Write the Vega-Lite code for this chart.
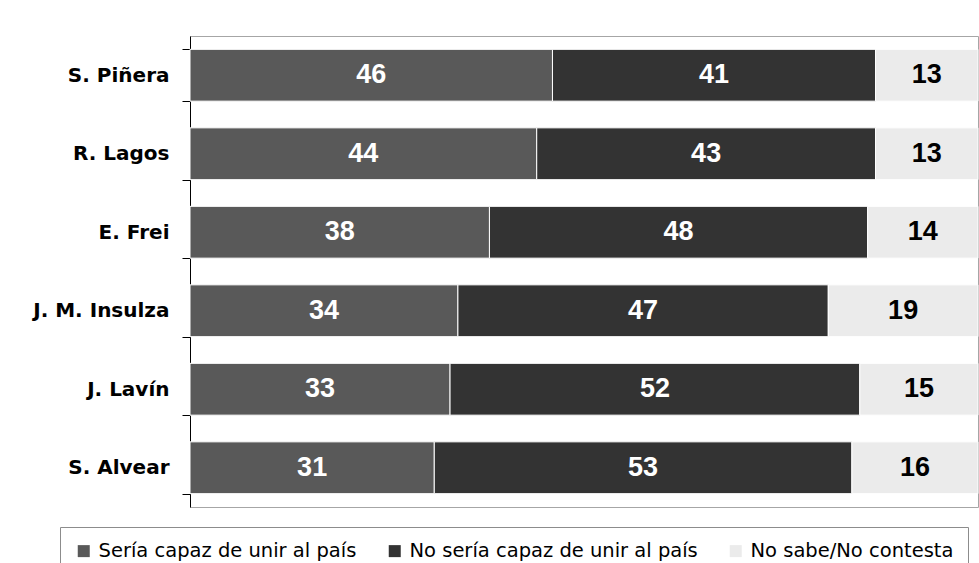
{
  "$schema": "https://vega.github.io/schema/vega-lite/v6.json",
  "width": 788,
  "height": 471,
  "autosize": {"type": "none"},
  "padding": {"left": 190, "top": 36, "right": 1, "bottom": 56},
  "background": "white",
  "config": {
    "view": {"stroke": "#a6a6a6", "strokeWidth": 1},
    "font": "DejaVu Sans"
  },
  "data": {
    "values": [
      {"candidate": "S. Piñera", "category": "Sería capaz de unir al país", "k": 1, "value": 46},
      {"candidate": "S. Piñera", "category": "No sería capaz de unir al país", "k": 2, "value": 41},
      {"candidate": "S. Piñera", "category": "No sabe/No contesta", "k": 3, "value": 13},
      {"candidate": "R. Lagos", "category": "Sería capaz de unir al país", "k": 1, "value": 44},
      {"candidate": "R. Lagos", "category": "No sería capaz de unir al país", "k": 2, "value": 43},
      {"candidate": "R. Lagos", "category": "No sabe/No contesta", "k": 3, "value": 13},
      {"candidate": "E. Frei", "category": "Sería capaz de unir al país", "k": 1, "value": 38},
      {"candidate": "E. Frei", "category": "No sería capaz de unir al país", "k": 2, "value": 48},
      {"candidate": "E. Frei", "category": "No sabe/No contesta", "k": 3, "value": 14},
      {"candidate": "J. M. Insulza", "category": "Sería capaz de unir al país", "k": 1, "value": 34},
      {"candidate": "J. M. Insulza", "category": "No sería capaz de unir al país", "k": 2, "value": 47},
      {"candidate": "J. M. Insulza", "category": "No sabe/No contesta", "k": 3, "value": 19},
      {"candidate": "J. Lavín", "category": "Sería capaz de unir al país", "k": 1, "value": 33},
      {"candidate": "J. Lavín", "category": "No sería capaz de unir al país", "k": 2, "value": 52},
      {"candidate": "J. Lavín", "category": "No sabe/No contesta", "k": 3, "value": 15},
      {"candidate": "S. Alvear", "category": "Sería capaz de unir al país", "k": 1, "value": 31},
      {"candidate": "S. Alvear", "category": "No sería capaz de unir al país", "k": 2, "value": 53},
      {"candidate": "S. Alvear", "category": "No sabe/No contesta", "k": 3, "value": 16}
    ]
  },
  "transform": [
    {"stack": "value", "groupby": ["candidate"], "sort": [{"field": "k", "order": "ascending"}], "as": ["x0", "x1"]},
    {"calculate": "(datum.x0 + datum.x1) / 2", "as": "xmid"}
  ],
  "encoding": {
    "y": {
      "field": "candidate",
      "type": "nominal",
      "sort": null,
      "title": null,
      "scale": {"paddingInner": 0.34, "paddingOuter": 0.17},
      "axis": {
        "domainColor": "black",
        "tickColor": "black",
        "tickSize": 8,
        "tickBand": "extent",
        "labelPadding": 13,
        "labelFont": "DejaVu Sans",
        "labelFontWeight": "bold",
        "labelFontSize": 20,
        "labelColor": "black"
      }
    }
  },
  "layer": [
    {
      "mark": {"type": "bar", "stroke": "white", "strokeWidth": 1},
      "encoding": {
        "x": {
          "field": "x0",
          "type": "quantitative",
          "scale": {"domain": [0, 100], "nice": false},
          "axis": null
        },
        "x2": {"field": "x1"},
        "color": {
          "field": "category",
          "type": "nominal",
          "sort": ["Sería capaz de unir al país", "No sería capaz de unir al país", "No sabe/No contesta"],
          "scale": {
            "domain": ["Sería capaz de unir al país", "No sería capaz de unir al país", "No sabe/No contesta"],
            "range": ["#595959", "#333333", "#ebebeb"]
          },
          "legend": {
            "title": null,
            "orient": "none",
            "legendX": -130,
            "legendY": 491,
            "direction": "horizontal",
            "strokeColor": "#8c8c8c",
            "fillColor": "white",
            "padding": 14,
            "symbolType": "square",
            "symbolSize": 144,
            "symbolStrokeWidth": 0,
            "labelFont": "DejaVu Sans",
            "labelFontSize": 19.5,
            "labelLimit": 500,
            "labelColor": "black",
            "columnPadding": 28,
            "labelOffset": 5
          }
        }
      }
    },
    {
      "mark": {"type": "text", "font": "Liberation Sans", "fontWeight": "bold", "fontSize": 27, "baseline": "middle", "align": "center"},
      "encoding": {
        "x": {"field": "xmid", "type": "quantitative", "scale": {"domain": [0, 100], "nice": false}, "axis": null},
        "text": {"field": "value", "type": "quantitative"},
        "color": {"condition": {"test": "datum.k == 3", "value": "black"}, "value": "white"}
      }
    }
  ]
}
